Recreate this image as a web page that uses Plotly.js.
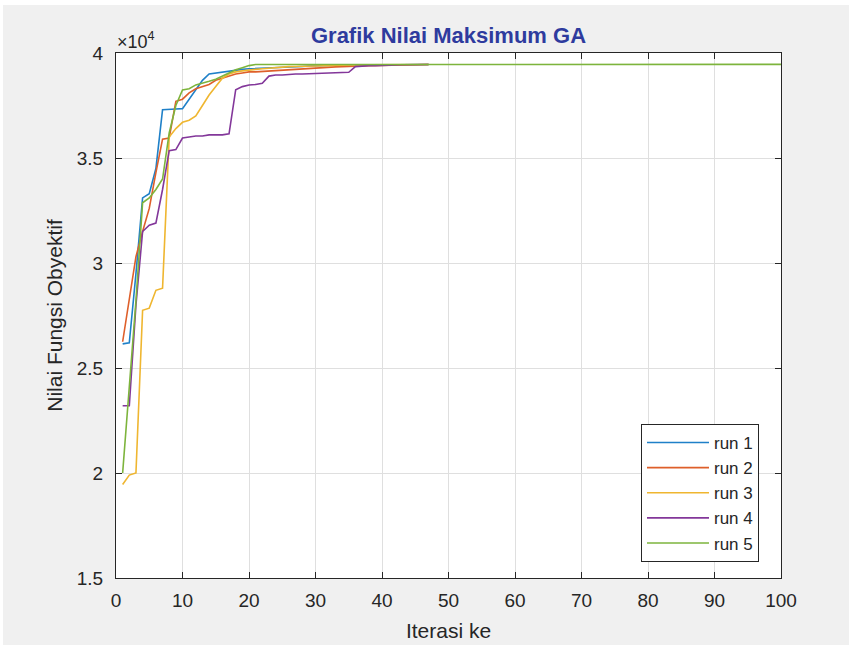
<!DOCTYPE html>
<html>
<head>
<meta charset="utf-8">
<script src="https://cdn.plot.ly/plotly-3.0.1.min.js"></script>
<style>html,body{margin:0;padding:0;background:#fff;}#chart{width:852px;height:645px;}</style>
</head>
<body>
<div id="chart"></div>
<script>
// Iteration numbers
const iterShort = [1,2,3,4,5,6,7,8,9,10,11,12,13,14,15,16,17,18,19,20,21,22,23,24,25,26,27,28,29,30,31,32,33,34,35,36,37,38,39,40,41,42,43,44,45,46,47];
const iterLong = [1,2,3,4,5,6,7,8,9,10,11,12,13,14,15,16,17,18,19,20,21,22,23,24,25,26,27,28,29,30,31,32,33,34,35,36,37,38,39,40,41,42,43,44,45,46,47,48,49,50,51,52,53,54,55,56,57,58,59,60,61,62,63,64,65,66,67,68,69,70,71,72,73,74,75,76,77,78,79,80,81,82,83,84,85,86,87,88,89,90,91,92,93,94,95,96,97,98,99,100];

const run1 = [26150,26200,29500,33100,33300,34500,37300,37330,37330,37350,37800,38300,38700,39000,39050,39100,39150,39200,39220,39250,39260,39280,39300,39300,39320,39330,39350,39360,39380,39400,39400,39410,39420,39420,39430,39430,39440,39440,39440,39450,39450,39450,39450,39450,39450,39450,39450];
const run2 = [26250,28300,30300,31500,32600,34300,35900,35950,37700,37800,38100,38300,38400,38500,38700,38800,38900,39000,39050,39100,39100,39120,39150,39180,39200,39220,39250,39260,39280,39300,39320,39330,39340,39350,39350,39370,39380,39390,39400,39400,39420,39420,39430,39440,39440,39450,39450];
const run3 = [19450,19900,20000,27750,27850,28700,28800,36000,36400,36700,36800,37000,37500,38000,38400,38800,39000,39100,39150,39200,39220,39250,39280,39300,39320,39350,39360,39370,39380,39400,39400,39410,39420,39420,39430,39430,39440,39440,39440,39450,39450,39450,39450,39450,39450,39450,39450];
const run4 = [23200,23200,28000,31500,31800,31900,33500,35350,35400,35950,36000,36050,36050,36100,36100,36100,36150,38250,38400,38480,38500,38560,38900,38950,38950,38980,39000,39000,39020,39030,39050,39050,39060,39070,39080,39350,39380,39400,39400,39420,39430,39430,39440,39440,39450,39450,39450];
const run5 = [20000,24100,28200,32870,33100,33500,34000,36200,37500,38240,38300,38480,38550,38650,38750,38900,39050,39200,39300,39400,39450,39450,39450,39450,39450,39450,39450,39450,39450,39450,39450,39450,39450,39450,39450,39450,39450,39450,39450,39450,39450,39450,39450,39450,39450,39450,39450,39450,39450,39450,39450,39450,39450,39450,39450,39450,39450,39450,39450,39450,39450,39450,39450,39450,39450,39450,39450,39450,39450,39450,39450,39450,39450,39450,39450,39450,39450,39450,39450,39450,39450,39450,39450,39450,39450,39450,39450,39450,39450,39450,39450,39450,39450,39450,39450,39450,39450,39450,39450,39460];

const seriesNames = ['run 1','run 2','run 3','run 4','run 5'];
const seriesColors = ['#1f80c8','#de5f2a','#efb630','#83379a','#7db43c'];
const xTicks = [0,10,20,30,40,50,60,70,80,90,100];
const yTicks = [15000,20000,25000,30000,35000,40000];
const yTickText = ['1.5','2','2.5','3','3.5','4'];

const xs = [iterShort, iterShort, iterShort, iterShort, iterLong];
const ys = [run1, run2, run3, run4, run5];
const traces = ys.map((y, i) => ({
  x: xs[i], y: y, type: 'scatter', mode: 'lines', name: seriesNames[i],
  line: {color: seriesColors[i], width: 1.6}
}));

const F = 'Liberation Sans, Arial, sans-serif';
const L = 116, R = 71, T = 53, B = 67, W = 852, H = 645;
const pw = W - L - R, ph = H - T - B;

const layout = {
  width: W, height: H,
  margin: {l: L, r: R, t: T, b: B, pad: 0},
  paper_bgcolor: '#ffffff',
  plot_bgcolor: '#ffffff',
  font: {family: F, size: 19, color: '#262626'},
  title: {text: '<b>Grafik Nilai Maksimum GA</b>', font: {family: F, size: 22, color: '#2E3B9E'},
          x: 0.5, xref: 'paper', xanchor: 'center', y: (H - 35) / H, yanchor: 'middle'},
  xaxis: {
    range: [0, 100], tickvals: xTicks, ticktext: xTicks.map(String),
    showgrid: true, gridcolor: '#dfdfdf', gridwidth: 1,
    showline: true, linecolor: '#262626', linewidth: 1, mirror: 'ticks',
    ticks: 'inside', ticklen: 6, tickcolor: '#262626', ticklabelstandoff: 5,
    zeroline: false, tickfont: {family: F, size: 19, color: '#262626'},
    title: {text: 'Iterasi ke', font: {family: F, size: 21, color: '#262626'}, standoff: 13}
  },
  yaxis: {
    range: [15000, 40000], tickvals: yTicks, ticktext: yTickText,
    showgrid: true, gridcolor: '#dfdfdf', gridwidth: 1,
    showline: true, linecolor: '#262626', linewidth: 1, mirror: 'ticks',
    ticks: 'inside', ticklen: 6, tickcolor: '#262626', ticklabelstandoff: 8,
    zeroline: false, tickfont: {family: F, size: 19, color: '#262626'},
    title: {text: 'Nilai Fungsi Obyektif', font: {family: F, size: 21, color: '#262626'}, standoff: 8}
  },
  legend: {
    x: (641 - L) / pw, y: (578 - 424) / ph, xanchor: 'left', yanchor: 'top',
    bgcolor: '#ffffff', bordercolor: '#262626', borderwidth: 1,
    font: {family: F, size: 17, color: '#262626'}, tracegroupgap: 0, itemwidth: 62
  },
  annotations: [{
    text: '×10<sup>4</sup>', xref: 'paper', yref: 'paper',
    x: (115 - L) / pw, y: (578 - 54) / ph, xanchor: 'left', yanchor: 'bottom',
    showarrow: false, font: {family: F, size: 18, color: '#262626'}
  }],
  shapes: [
    {type: 'rect', xref: 'paper', yref: 'paper', layer: 'below',
     x0: (3 - L) / pw, x1: (849 - L) / pw, y0: (578 - 646) / ph, y1: (578 - 5) / ph,
     fillcolor: '#f0f0f0', line: {width: 0}},
    {type: 'rect', xref: 'paper', yref: 'paper', layer: 'below',
     x0: 0, x1: 1, y0: 0, y1: 1, fillcolor: '#ffffff', line: {width: 0}}
  ],
  showlegend: true
};

Plotly.newPlot('chart', traces, layout, {displayModeBar: false, staticPlot: true});
</script>
</body>
</html>
